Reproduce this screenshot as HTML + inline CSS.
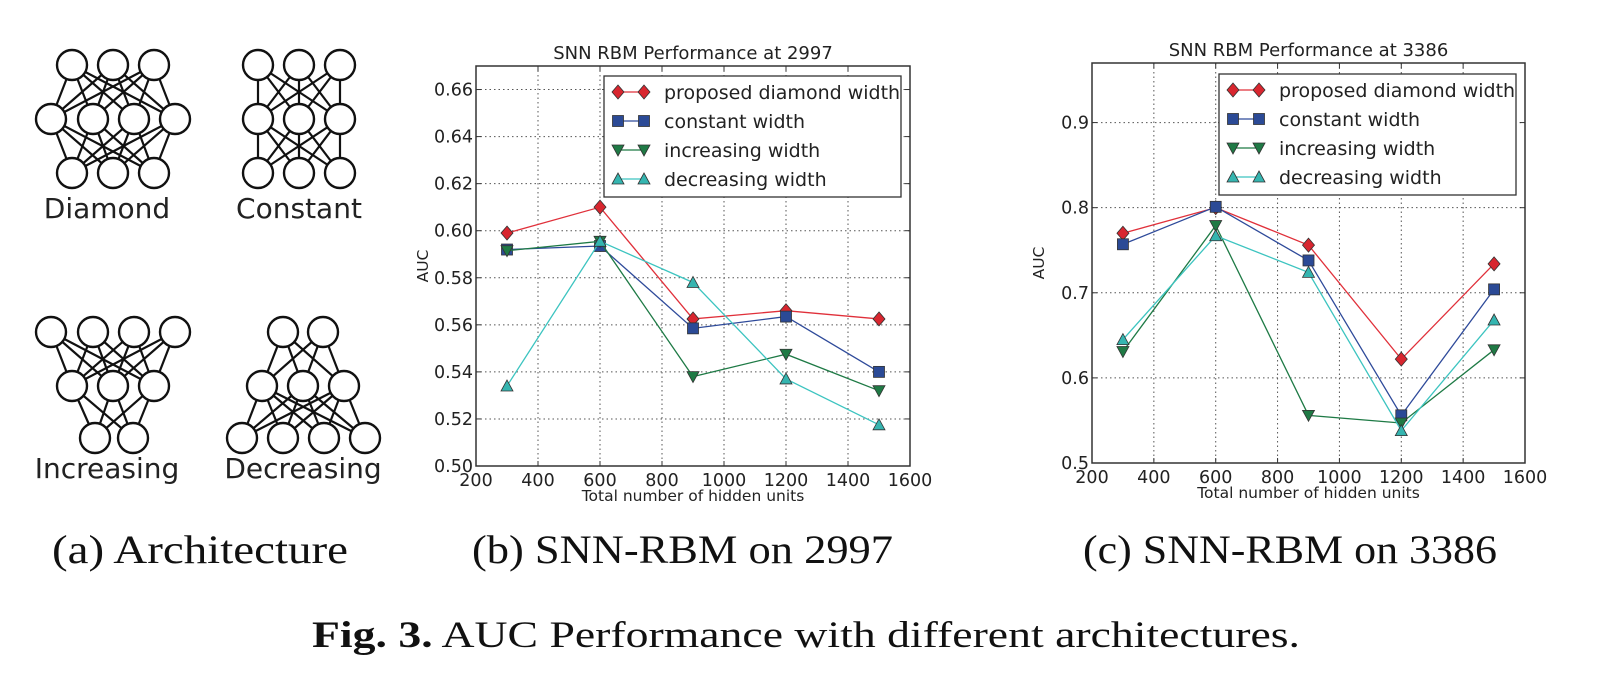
<!DOCTYPE html>
<html><head><meta charset="utf-8"><style>
html,body{margin:0;padding:0;background:#fff;width:1616px;height:680px;overflow:hidden}
svg{display:block}
.cap{font-family:"Liberation Serif",serif;fill:#111}
.sans{font-family:"DejaVu Sans","Liberation Sans",sans-serif;fill:#222}
</style></head><body>
<svg id="fig" width="1616" height="680" viewBox="0 0 1616 680" xmlns="http://www.w3.org/2000/svg">
<g id="arch"></g>
<g id="chartB"></g>
<g id="chartC"></g>
<text class="cap" x="52" y="563" font-size="40" textLength="296" lengthAdjust="spacingAndGlyphs">(a) Architecture</text>
<text class="cap" x="472" y="563" font-size="40" textLength="421" lengthAdjust="spacingAndGlyphs">(b) SNN-RBM on 2997</text>
<text class="cap" x="1083" y="563" font-size="40" textLength="414" lengthAdjust="spacingAndGlyphs">(c) SNN-RBM on 3386</text>
<text class="cap" x="312" y="647" font-size="37" textLength="988" lengthAdjust="spacingAndGlyphs"><tspan font-weight="bold">Fig. 3.</tspan> AUC Performance with different architectures.</text>
</svg>
<script>
const NS="http://www.w3.org/2000/svg";
const xCats=[300,600,900,1200,1500];
const seriesNames=["proposed diamond width","constant width","increasing width","decreasing width"];
const b_diamond=[0.599,0.610,0.5625,0.566,0.5625];
const b_constant=[0.592,0.5935,0.5585,0.5635,0.540];
const b_increasing=[0.5915,0.5955,0.538,0.5475,0.532];
const b_decreasing=[0.534,0.5955,0.578,0.537,0.5175];
const c_diamond=[0.770,0.800,0.756,0.622,0.734];
const c_constant=[0.757,0.801,0.738,0.556,0.704];
const c_increasing=[0.631,0.779,0.556,0.547,0.633];
const c_decreasing=[0.645,0.767,0.724,0.538,0.668];
const xTicks=[200,400,600,800,1000,1200,1400,1600];
const bYTicks=[0.50,0.52,0.54,0.56,0.58,0.60,0.62,0.64,0.66];
const cYTicks=[0.5,0.6,0.7,0.8,0.9];

function el(tag,attrs,parent){const e=document.createElementNS(NS,tag);for(const k in attrs)e.setAttribute(k,attrs[k]);parent.appendChild(e);return e;}

const colors=["#e0303a","#2e4a9a","#1e7a45","#3cc4c0"];
const fills=["#d8262f","#2b4a96","#1f7a45","#35b5b0"];
const markers=["diamond","square","down","up"];
function marker(g,type,x,y,i){
  let m;
  if(type==="diamond") m=el("polygon",{points:`${x},${y-7} ${x+6},${y} ${x},${y+7} ${x-6},${y}`},g);
  else if(type==="square") m=el("rect",{x:x-5.5,y:y-5.5,width:11,height:11},g);
  else if(type==="down") m=el("polygon",{points:`${x-6},${y-5} ${x+6},${y-5} ${x},${y+6}`},g);
  else m=el("polygon",{points:`${x-6},${y+5} ${x+6},${y+5} ${x},${y-6}`},g);
  m.setAttribute("fill",fills[i]);m.setAttribute("stroke","#333");m.setAttribute("stroke-width","0.8");
  return m;
}

function chart(gid,cfg){
  const g=document.getElementById(gid);
  const {L,R,T,B,ymin,ymax,yTicks,fmt,series,title,leg}=cfg;
  const sx=v=>L+(v-200)/(1600-200)*(R-L);
  const sy=v=>B-(v-ymin)/(ymax-ymin)*(B-T);
  const grid=el("g",{},g);
  
  
  xTicks.forEach(t=>{
    const x=sx(t);
    if(t>200&&t<1600) el("line",{x1:x,y1:T,x2:x,y2:B,stroke:"#555","stroke-dasharray":"1.5,3","stroke-width":1},grid);
    el("line",{x1:x,y1:B,x2:x,y2:B-5,stroke:"#333"},grid);
    el("line",{x1:x,y1:T,x2:x,y2:T+5,stroke:"#333"},grid);
    const tx=el("text",{x:x,y:B+20,"font-size":17.5,"text-anchor":"middle",class:"sans"},g);
    tx.textContent=t;
    
    
  });
  yTicks.forEach(t=>{
    const y=sy(t);
    if(t>ymin) el("line",{x1:L,y1:y,x2:R,y2:y,stroke:"#555","stroke-dasharray":"1.5,3","stroke-width":1},grid);
    el("line",{x1:L,y1:y,x2:L+5,y2:y,stroke:"#333"},grid);
    el("line",{x1:R,y1:y,x2:R-5,y2:y,stroke:"#333"},grid);
    const ty=el("text",{x:L-3,y:y+6,"font-size":17.5,"text-anchor":"end",class:"sans"},g);
    ty.textContent=t.toFixed(fmt);
    
    
  });
  series.forEach((vals,i)=>{
    const sg=el("g",{},g);
    
    
    el("polyline",{points:vals.map((v,j)=>sx(xCats[j])+","+sy(v)).join(" "),fill:"none",stroke:colors[i],"stroke-width":1.3},sg);
    vals.forEach((v,j)=>{
      const m=marker(sg,markers[i],sx(xCats[j]),sy(v),i);
      
      
    });
  });
  const frame=el("rect",{x:L,y:T,width:R-L,height:B-T,fill:"none",stroke:"#333","stroke-width":1.5},g);
  
  
  const tt=el("text",{x:(L+R)/2,y:T-7,"font-size":18,"text-anchor":"middle",class:"sans"},g);
  tt.textContent=title;
  
  
  const xl=el("text",{x:(L+R)/2,y:B+35,"font-size":15.5,"text-anchor":"middle",class:"sans"},g);
  xl.textContent="Total number of hidden units";
  
  
  const yl=el("text",{x:0,y:0,"font-size":15.5,"text-anchor":"middle",class:"sans",transform:`translate(${L-48},${(T+B)/2}) rotate(-90)`},g);
  yl.textContent="AUC";
  
  
  const lg=el("g",{},g);
  
  
  el("rect",{x:leg.x,y:leg.y,width:leg.w,height:121,fill:"#fff",stroke:"#333","stroke-width":1.3},lg);
  seriesNames.forEach((n,i)=>{
    const y=leg.y+16+i*29;
    const eg=el("g",{},lg);
    
    
    el("line",{x1:leg.x+14,y1:y,x2:leg.x+40,y2:y,stroke:colors[i],"stroke-width":1.3},eg);
    marker(eg,markers[i],leg.x+14,y,i);marker(eg,markers[i],leg.x+40,y,i);
    const t=el("text",{x:leg.x+60,y:y+7,"font-size":19,class:"sans"},eg);
    t.textContent=n;
  });
}
chart("chartB",{L:476,R:910,T:66,B:466,ymin:0.50,ymax:0.67,yTicks:bYTicks,fmt:2,
  series:[b_diamond,b_constant,b_increasing,b_decreasing],title:"SNN RBM Performance at 2997",leg:{x:604,y:76,w:297}});
chart("chartC",{L:1092,R:1525,T:63,B:463,ymin:0.5,ymax:0.97,yTicks:cYTicks,fmt:1,
  series:[c_diamond,c_constant,c_increasing,c_decreasing],title:"SNN RBM Performance at 3386",leg:{x:1219,y:74,w:297}});

// architecture diagrams
const archs=[
  {name:"Diamond",cx:107,ly:218,layers:[[72,113,154],[51,93,134,175],[72,113,154]],ys:[65,119,173]},
  {name:"Constant",cx:299,ly:218,layers:[[258,299,340],[258,299,340],[258,299,340]],ys:[65,119,173]},
  {name:"Increasing",cx:107,ly:478,layers:[[51,93,134,175],[72,113,154],[95,133]],ys:[332,386,438]},
  {name:"Decreasing",cx:303,ly:478,layers:[[283,323],[262,303,344],[242,283,324,365]],ys:[332,386,438]}
];
const ag=document.getElementById("arch");
archs.forEach(a=>{
  const g=el("g",{},ag);
  
  
  for(let l=0;l<2;l++) a.layers[l].forEach(x1=>a.layers[l+1].forEach(x2=>{
    el("line",{x1:x1,y1:a.ys[l],x2:x2,y2:a.ys[l+1],stroke:"#111","stroke-width":2.2},g);
  }));
  a.layers.forEach((xs,l)=>xs.forEach(x=>el("circle",{cx:x,cy:a.ys[l],r:15,fill:"#fff",stroke:"#111","stroke-width":2.4},g)));
  const t=el("text",{x:a.cx,y:a.ly,"font-size":28,"text-anchor":"middle",class:"sans"},g);
  t.setAttribute("fill","#111");
  t.textContent=a.name;
});
</script>
</body></html>
